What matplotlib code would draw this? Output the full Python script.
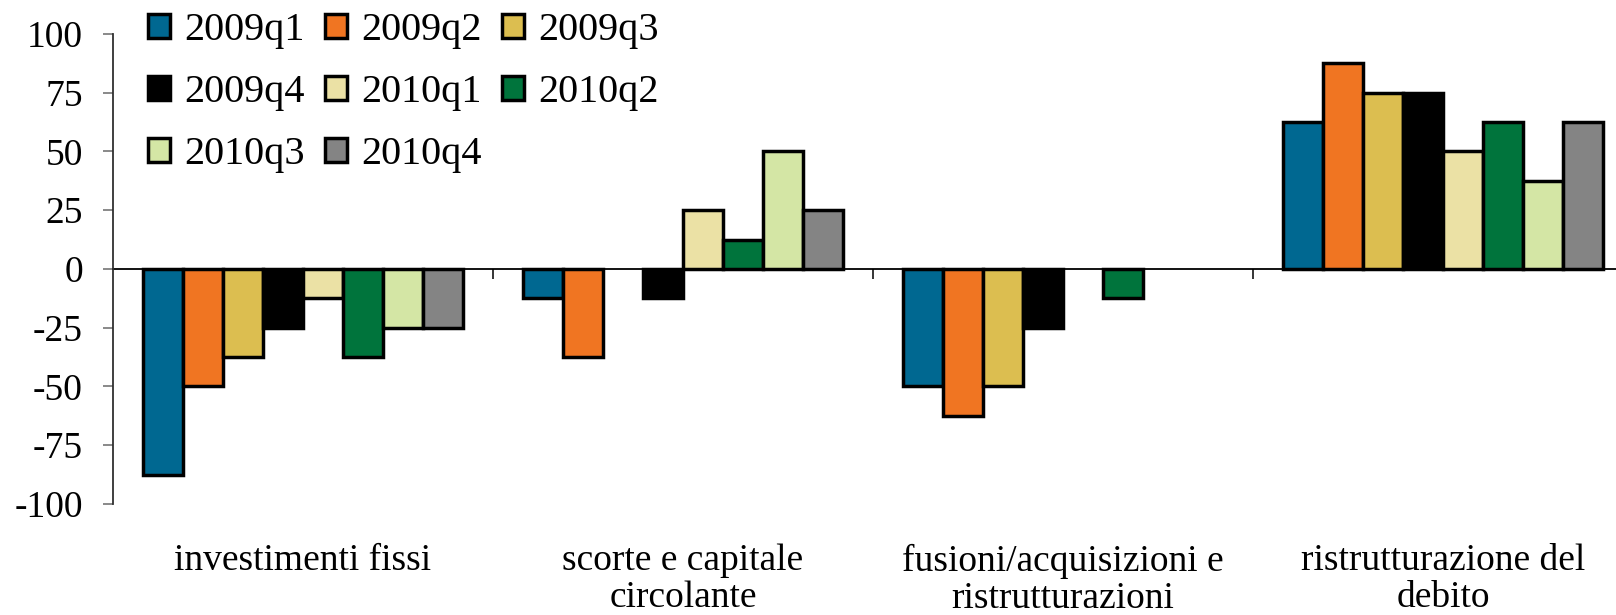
import numpy as np
import matplotlib
matplotlib.use('Agg')
import matplotlib.pyplot as plt

plt.rcParams['font.family'] = ['Liberation Serif', 'DejaVu Serif']
plt.rcParams['axes.unicode_minus'] = False

# data (percent balances)
categories = ['investimenti fissi',
              'scorte e capitale\ncircolante',
              'fusioni/acquisizioni e\nristrutturazioni',
              'ristrutturazione del\ndebito']
series_names = ['2009q1', '2009q2', '2009q3', '2009q4',
                '2010q1', '2010q2', '2010q3', '2010q4']
q2009_1 = [-87.5, -12.5, -50.0, 62.5]
q2009_2 = [-50.0, -37.5, -62.5, 87.5]
q2009_3 = [-37.5, 0.0, -50.0, 75.0]
q2009_4 = [-25.0, -12.5, -25.0, 75.0]
q2010_1 = [-12.5, 25.0, 0.0, 50.0]
q2010_2 = [-37.5, 12.5, -12.5, 62.5]
q2010_3 = [-25.0, 50.0, 0.0, 37.5]
q2010_4 = [-25.0, 25.0, 0.0, 62.5]
series_values = [q2009_1, q2009_2, q2009_3, q2009_4,
                 q2010_1, q2010_2, q2010_3, q2010_4]
colors = ['#006891', '#F07522', '#DCBE50', '#000000',
          '#EBE1A5', '#00743C', '#D4E6A5', '#848484']
yticks = [-100, -75, -50, -25, 0, 25, 50, 75, 100]
ytick_labels = ['-100', '-75', '-50', '-25', '0', '25', '50', '75', '100']

W, H = 1616, 615
fig = plt.figure(figsize=(W / 100, H / 100), dpi=100)
ax = fig.add_axes([113 / W, 1 - 504 / H, (W - 113) / W, 470 / H])

x = np.arange(len(categories))
bw = 40 / 380
n = len(series_names)
handles = []
for j, (name, vals) in enumerate(zip(series_names, series_values)):
    bars = ax.bar(x + (j - (n - 1) / 2) * bw, vals, width=bw, color=colors[j],
                  edgecolor='black', linewidth=2.5, label=name, zorder=3)
    for p in bars.patches:
        if p.get_height() == 0:
            p.set_linewidth(0)
    handles.append(bars)

ax.set_xlim(-0.5, -0.5 + (W - 113) / 380)
ax.set_ylim(-100, 100)

# axis styling
for s in ['top', 'right']:
    ax.spines[s].set_visible(False)
ax.spines['bottom'].set_position(('data', 0))
ax.spines['bottom'].set_color('black')
ax.spines['bottom'].set_linewidth(1.3)
ax.spines['bottom'].set_zorder(2)
ax.spines['left'].set_color('#303030')
ax.spines['left'].set_linewidth(1.3)

ax.set_yticks(yticks)
ax.set_yticklabels(ytick_labels)
ax.tick_params(axis='y', direction='out', length=7.2, width=1.3, color='#808080',
               labelsize=27, pad=14.5)

ax.set_xticks(x[:-1] + 0.5)
ax.set_xticklabels([])
ax.tick_params(axis='x', direction='out', length=7.2, width=1.1, color='black')

# category labels under the plot
for xi, lab in zip(x, categories):
    ax.text(xi, -(544 - 504) / 470, lab, transform=ax.get_xaxis_transform(),
            ha='center', va='top', fontsize=27, linespacing=1.08,
            multialignment='center')

# legend filled row by row
order = [0, 3, 6, 1, 4, 7, 2, 5]
ax.legend([handles[i] for i in order], [series_names[i] for i in order],
          ncol=3, loc='upper left', bbox_to_anchor=(148 / W, 1 - 12 / H),
          bbox_transform=fig.transFigure, frameon=False, fontsize=29,
          handlelength=0.55, handleheight=0.55, handletextpad=0.35,
          columnspacing=0.5, labelspacing=0.62, borderpad=0, borderaxespad=0)

fig.savefig('out.png', dpi=100)
